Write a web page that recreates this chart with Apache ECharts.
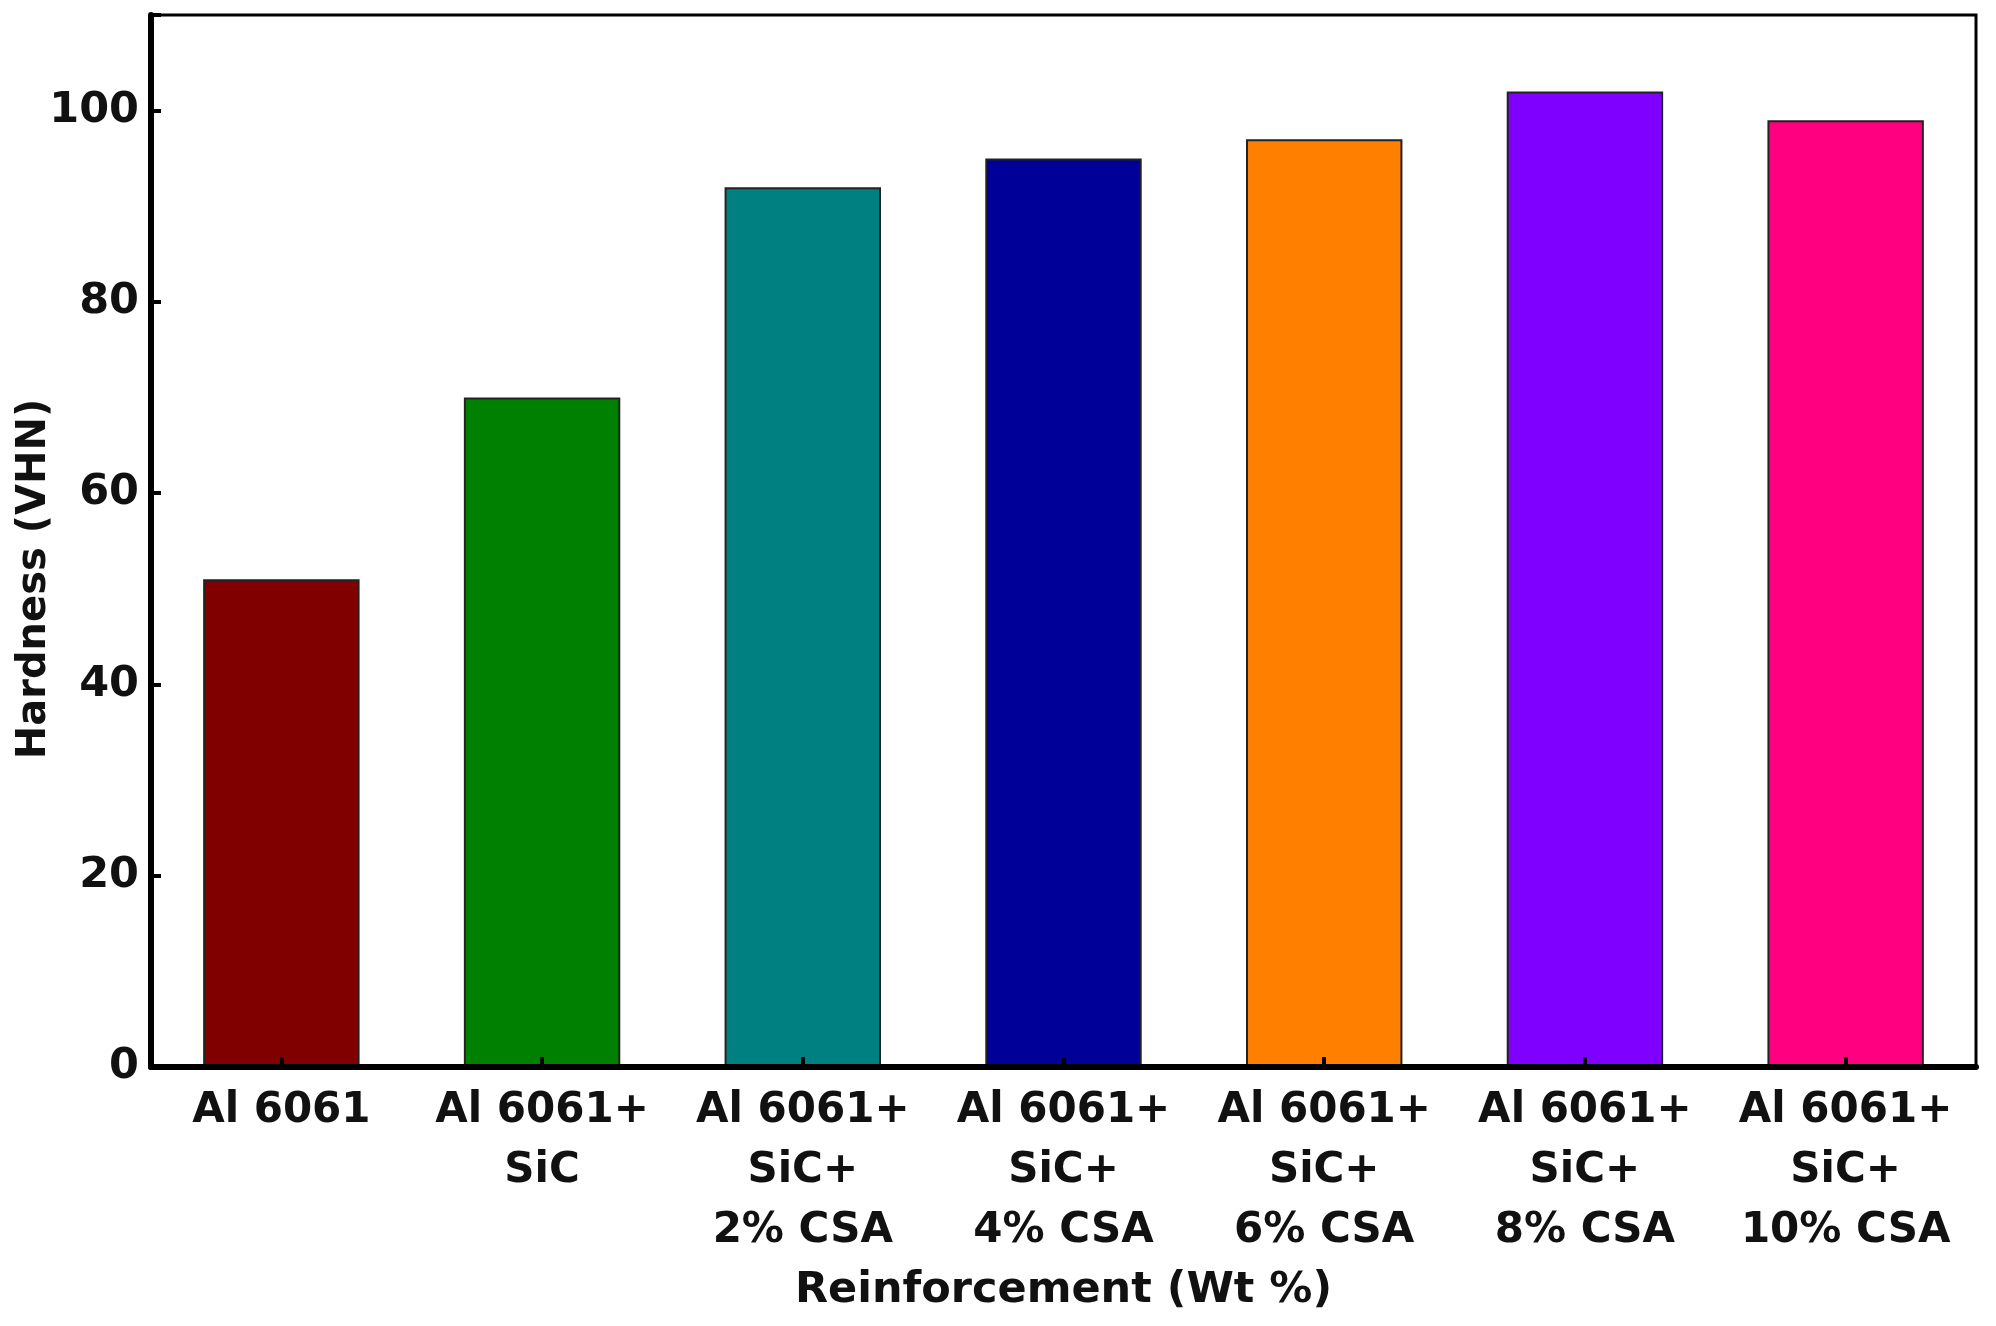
<!DOCTYPE html>
<html>
<head>
<meta charset="utf-8">
<script src="https://cdn.jsdelivr.net/npm/echarts@6/dist/echarts.min.js"></script>
<style>
html,body{margin:0;padding:0;background:#fff;}
#chart{width:1996px;height:1326px;}
</style>
</head>
<body>
<div id="chart"></div>
<script>
const categories = [
  'Al 6061',
  'Al 6061+\nSiC',
  'Al 6061+\nSiC+\n2% CSA',
  'Al 6061+\nSiC+\n4% CSA',
  'Al 6061+\nSiC+\n6% CSA',
  'Al 6061+\nSiC+\n8% CSA',
  'Al 6061+\nSiC+\n10% CSA'
];
const hardness = [51, 70, 92, 95, 97, 102, 99];
const barColors = ['#800000', '#008000', '#008080', '#000099', '#FF8000', '#8000FF', '#FF0080'];
const yTicks = [0, 20, 40, 60, 80, 100];

const font = '"DejaVu Sans", Verdana, sans-serif';
const chart = echarts.init(document.getElementById('chart'));
chart.setOption({
  backgroundColor: '#ffffff',
  animation: false,
  grid: {
    left: 151, right: 20, top: 15, bottom: 259,
    containLabel: false,
    outerBoundsMode: 'none',
    show: true, borderColor: '#000', borderWidth: 3, backgroundColor: 'transparent'
  },
  xAxis: {
    type: 'category',
    data: categories,
    z: 10,
    name: 'Reinforcement (Wt %)',
    nameLocation: 'middle',
    nameGap: 202,
    nameMoveOverlap: false,
    nameTextStyle: { fontFamily: font, fontWeight: 'bold', fontSize: 43, color: '#111' },
    axisLine: { lineStyle: { color: '#000', width: 6 } },
    axisTick: { show: true, inside: true, alignWithLabel: true, length: 10, lineStyle: { color: '#000', width: 4 } },
    axisLabel: { fontFamily: font, fontWeight: 'bold', fontSize: 42, color: '#111', lineHeight: 60, margin: 14, interval: 0 },
    splitLine: { show: false }
  },
  yAxis: {
    type: 'value',
    min: 0, max: 110, interval: 20,
    z: 10,
    name: 'Hardness (VHN)',
    nameLocation: 'middle',
    nameGap: 96,
    nameMoveOverlap: false,
    nameRotate: 90,
    nameTextStyle: { fontFamily: font, fontWeight: 'bold', fontSize: 40, color: '#111', padding: [0, 76, 0, 0] },
    axisLine: { show: true, lineStyle: { color: '#000', width: 6 } },
    axisTick: { show: true, inside: true, length: 10, lineStyle: { color: '#000', width: 4 } },
    axisLabel: {
      fontFamily: font, fontWeight: 'bold', fontSize: 43, color: '#111', margin: 12,
      formatter: v => (yTicks.indexOf(v) >= 0 ? String(v) : '')
    },
    splitLine: { show: false }
  },
  series: [{
    type: 'bar',
    data: hardness.map((v, i) => ({ value: v, itemStyle: { color: barColors[i] } })),
    barWidth: '60%',
    itemStyle: { borderColor: '#222', borderWidth: 2 }
  }]
});
</script>
</body>
</html>
